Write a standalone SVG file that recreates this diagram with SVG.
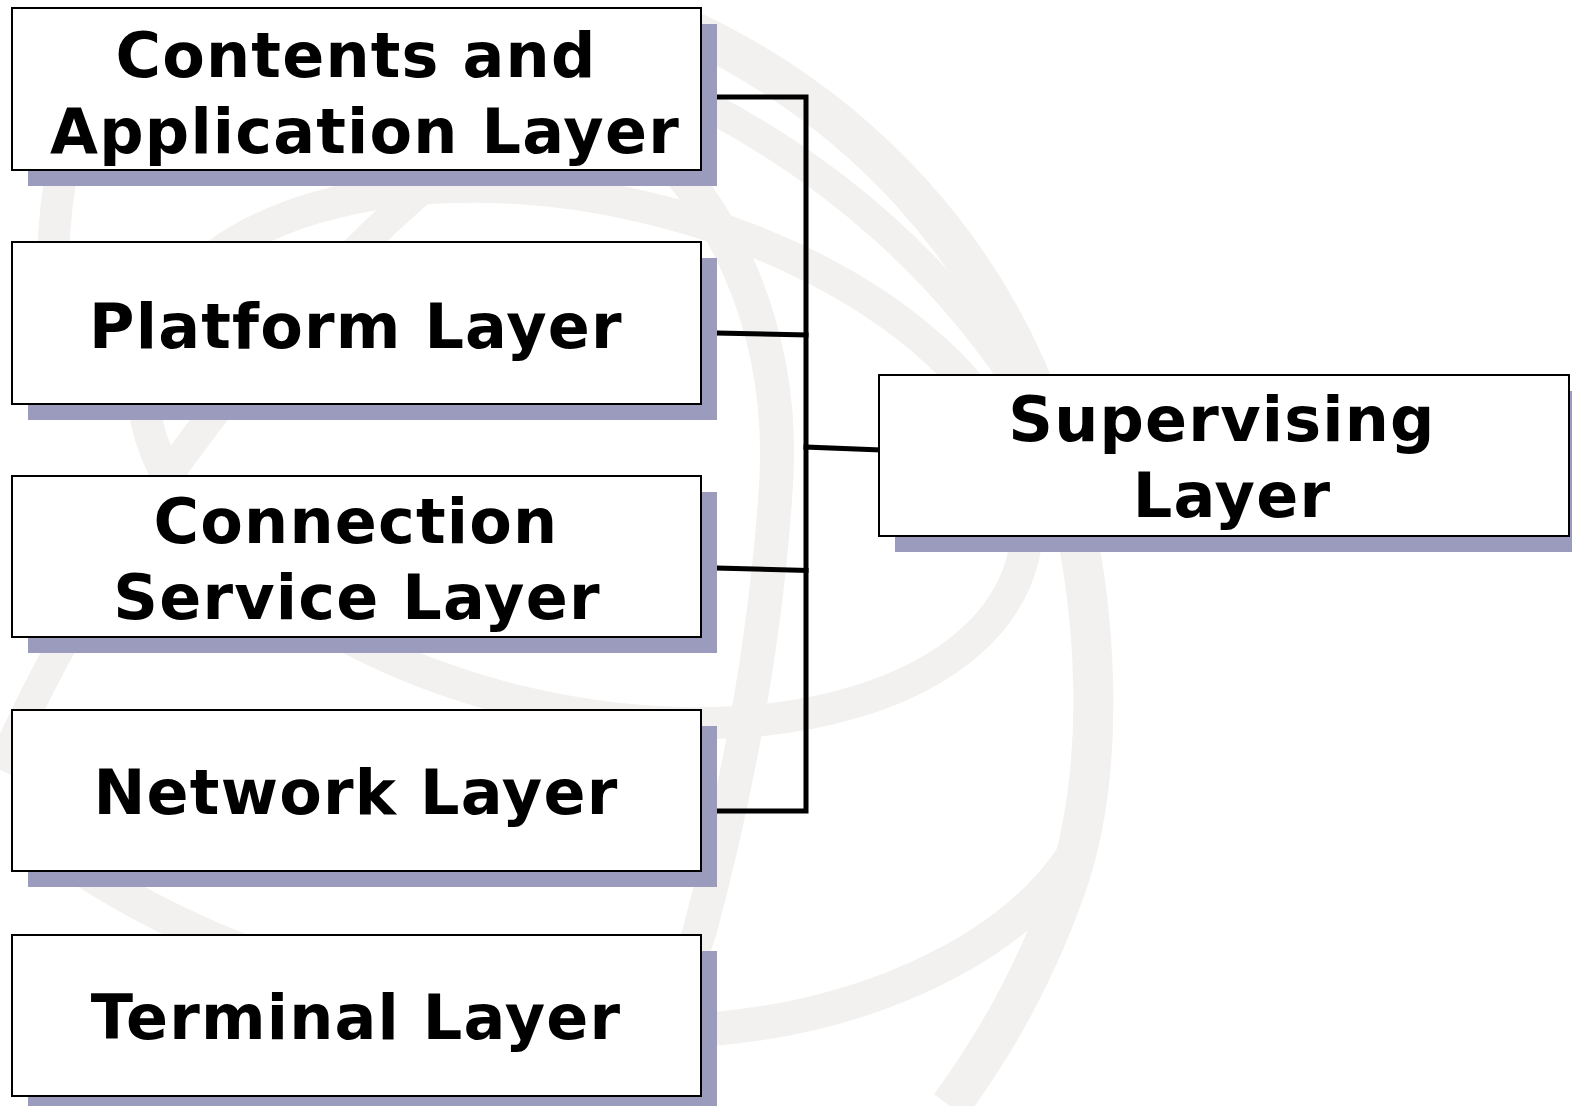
<svg xmlns="http://www.w3.org/2000/svg" width="1572" height="1106" viewBox="0 0 1572 1106">
<style>
.bg{fill:none;stroke:#f2f1ef;stroke-linecap:butt}
.shadow{fill:#9b9bbd}
.box{fill:#ffffff;stroke:#000000;stroke-width:2}
.lbl{font-family:"DejaVu Sans","Verdana",sans-serif;font-weight:bold;font-size:62px;letter-spacing:1.2px;fill:#000000;text-anchor:middle}
.conn{fill:none;stroke:#000000;stroke-width:5;stroke-linecap:square}
</style>
<rect x="0" y="0" width="1572" height="1106" fill="#ffffff"/>
<g id="globe">
<path class="bg" stroke-width="40" d="M 690,30 C 860,110 990,250 1050,430 C 1105,600 1105,780 1065,890 C 1035,975 995,1045 950,1106"/>
<path class="bg" stroke-width="30" d="M 705,105 C 830,170 950,270 1035,410"/>
<ellipse class="bg" stroke-width="32" cx="585" cy="455" rx="450" ry="255" transform="rotate(13 585 455)"/>
<path class="bg" stroke-width="34" d="M 600,100 C 720,180 790,330 775,500 C 765,640 740,780 700,930 L 640,1106"/>
<path class="bg" stroke-width="30" d="M 470,150 C 300,280 110,520 0,770"/>
<path class="bg" stroke-width="34" d="M 40,840 C 200,960 450,1040 700,1030 C 850,1020 1000,960 1070,860"/>
<path class="bg" stroke-width="32" d="M 100,60 C 60,140 45,230 58,330"/>
</g>
<g id="connectors">
<polyline class="conn" points="717,97 806,97 806,811 717,811"/>
<line class="conn" x1="717" y1="333" x2="806" y2="335"/>
<line class="conn" x1="717" y1="568" x2="806" y2="570.5"/>
<line class="conn" x1="806" y1="447" x2="879" y2="450"/>
</g>
<g id="node-contents">
<rect class="shadow" x="28" y="24" width="689" height="162"/>
<rect class="box" x="12" y="8" width="689" height="162"/>
<text class="lbl" x="356" y="77">Contents and</text>
<text class="lbl" x="365" y="153">Application Layer</text>
</g>
<g id="node-platform">
<rect class="shadow" x="28" y="258" width="689" height="162"/>
<rect class="box" x="12" y="242" width="689" height="162"/>
<text class="lbl" x="356" y="348">Platform Layer</text>
</g>
<g id="node-connection">
<rect class="shadow" x="28" y="492" width="689" height="161"/>
<rect class="box" x="12" y="476" width="689" height="161"/>
<text class="lbl" x="356" y="543">Connection</text>
<text class="lbl" x="357" y="619">Service Layer</text>
</g>
<g id="node-network">
<rect class="shadow" x="28" y="726" width="689" height="161"/>
<rect class="box" x="12" y="710" width="689" height="161"/>
<text class="lbl" x="356" y="814">Network Layer</text>
</g>
<g id="node-terminal">
<rect class="shadow" x="28" y="951" width="689" height="161"/>
<rect class="box" x="12" y="935" width="689" height="161"/>
<text class="lbl" x="356" y="1039">Terminal Layer</text>
</g>
<g id="node-supervising">
<rect class="shadow" x="895" y="391" width="690" height="161"/>
<rect class="box" x="879" y="375" width="690" height="161"/>
<text class="lbl" x="1222" y="441">Supervising</text>
<text class="lbl" x="1232" y="517">Layer</text>
</g>
</svg>
